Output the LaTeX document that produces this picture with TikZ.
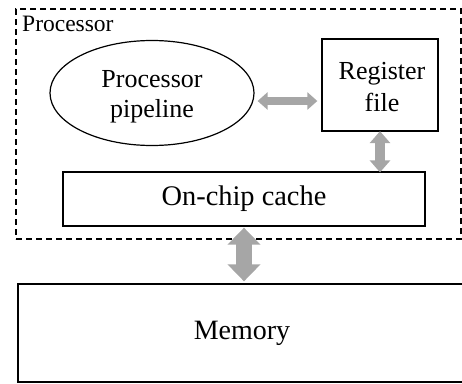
\documentclass[tikz,border=0pt]{standalone}
\usepackage{fontspec}
\setmainfont{Liberation Serif}
\usetikzlibrary{shapes.geometric,arrows.meta,calc}
\definecolor{linkgray}{HTML}{A6A6A6}
\tikzset{
  box/.style={draw, line width=1.3pt, inner sep=0pt, rectangle},
  frame/.style={draw, dash pattern=on 6pt off 4pt, line width=1.3pt, inner sep=0pt, rectangle},
  txt/.style={inner sep=0pt, align=center},
  link/.style={draw=linkgray, line width=#1},
}
\begin{document}
\begin{tikzpicture}[x=1pt,y=-1pt]
\useasboundingbox (0,0) rectangle (462,383);

% processor boundary (runs slightly past the right edge)
\node[frame, minimum width=445pt, minimum height=230pt] (proc) at (238.5,124) {};
\node[txt, anchor=base west, font=\fontsize{23.5}{26}\selectfont] (proclabel) at (22,31.5) {Processor};

% pipeline, register file, cache, memory
\node[ellipse, draw, line width=1.2pt, minimum width=204pt, minimum height=105pt, inner sep=0pt] (pipe) at (152,93) {};
\node[txt, font=\fontsize{26}{30}\selectfont] (pipetext) at (152,97) {Processor\\pipeline};

\node[box, minimum width=116pt, minimum height=92pt] (reg) at (380,85) {};
\node[txt, font=\fontsize{26}{32}\selectfont] (regtext) at (382,87) {Register\\file};

\node[box, minimum width=362pt, minimum height=54pt, font=\fontsize{28.4}{32}\selectfont] (cache) at (244,199) {On-chip cache};

\node[box, minimum width=448pt, minimum height=98pt, font=\fontsize{28}{32}\selectfont] (mem) at (242,333) {Memory};

% bidirectional links
\draw[link=8pt, {Triangle[width=17pt,length=10pt]}-{Triangle[width=17pt,length=10pt]}]
  ([shift={(3,8)}]pipe.east) -- ([shift={(-4,16)}]reg.west);
\draw[link=10pt, {Triangle[width=20pt,length=12pt]}-{Triangle[width=20pt,length=12pt]}]
  ([yshift=0.5pt]reg.south) -- ([yshift=-1pt]reg.south |- cache.north);
\draw[link=16pt, {Triangle[width=32pt,length=17pt]}-{Triangle[width=32pt,length=17pt]}]
  ([yshift=-1pt]cache.south) -- ([yshift=2pt]cache.south |- mem.north);
\end{tikzpicture}
\end{document}
